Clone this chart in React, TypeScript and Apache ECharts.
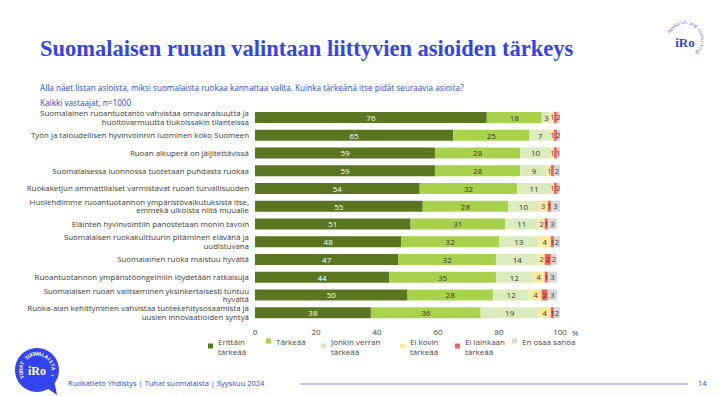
import React, { useEffect, useRef } from "react";
import * as echarts from "echarts";

const categories = [
  "Suomalainen ruoantuotanto vahvistaa omavaraisuutta ja\nhuoltovarmuutta tiukoissakin tilanteissa",
  "Työn ja taloudellisen hyvinvoinnin luominen koko Suomeen",
  "Ruoan alkuperä on jäljitettävissä",
  "Suomalaisessa luonnossa tuotetaan puhdasta ruokaa",
  "Ruokaketjun ammattilaiset varmistavat ruoan turvallisuuden",
  "Huolehdimme ruoantuotannon ympäristövaikutuksista itse,\nemmekä ulkoista niitä muualle",
  "Eläinten hyvinvointiin panostetaan monin tavoin",
  "Suomalaisen ruokakulttuurin pitäminen elävänä ja\nuudistuvana",
  "Suomalainen ruoka maistuu hyvältä",
  "Ruoantuotannon ympäristöongelmiin löydetään ratkaisuja",
  "Suomalaisen ruoan valitseminen yksinkertaisesti tuntuu\nhyvältä",
  "Ruoka-alan kehittyminen vahvistaa tuotekehitysosaamista ja\nuusien innovaatioiden syntyä",
];

const seriesNames = [
  "Erittäin tärkeää",
  "Tärkeää",
  "Jonkin verran tärkeää",
  "Ei kovin tärkeää",
  "Ei lainkaan tärkeää",
  "En osaa sanoa",
];
const legendLabels = [
  "Erittäin\ntärkeää",
  "Tärkeää",
  "Jonkin verran\ntärkeää",
  "Ei kovin\ntärkeää",
  "Ei lainkaan\ntärkeää",
  "En osaa sanoa",
];

const veryImportant = [76, 65, 59, 59, 54, 55, 51, 48, 47, 44, 50, 38];
const important = [18, 25, 28, 28, 32, 28, 31, 32, 32, 35, 28, 36];
const somewhat = [3, 7, 10, 9, 11, 10, 11, 13, 14, 12, 12, 19];
const notVery = [1, 1, 1, 1, 1, 3, 2, 4, 2, 4, 4, 4];
const notAtAll = [1, 1, 1, 1, 1, 1, 1, 1, 2, 1, 2, 1];
const dontKnow = [2, 2, 1, 2, 2, 3, 3, 2, 2, 3, 3, 2];

const xTicks = [0, 20, 40, 60, 80, 100];

const colors = ["#5a7620", "#a8d14c", "#dcebbd", "#fde99b", "#f3625c", "#d8d8d8"];
const labelColors = ["#ffffff", "#333333", "#333333", "#333333", "#333333", "#333333"];
const labelSizes = [8, 8, 8, 7.5, 7.5, 7.5];
const legendX = [208, 266, 321, 400, 455, 512];

const BLUE = "#3344ee";
const FONT = "'Open Sans', 'Noto Sans', sans-serif";

function arcText(text: string, cx: number, cy: number, r: number, startDeg: number, stepDeg: number, size: number, color: string, weight: string) {
  const out: any[] = [];
  for (let i = 0; i < text.length; i++) {
    const th = ((startDeg + i * stepDeg) * Math.PI) / 180;
    out.push({
      type: "text",
      x: cx + r * Math.sin(th),
      y: cy - r * Math.cos(th),
      rotation: -th,
      style: {
        text: text[i],
        fill: color,
        fontSize: size,
        fontFamily: FONT,
        fontWeight: weight,
        align: "center",
        verticalAlign: "middle",
      },
    });
  }
  return out;
}

export default function App() {
  const ref = useRef<HTMLDivElement>(null);
  useEffect(() => {
    if (!ref.current) return;
    const chart = echarts.init(ref.current, undefined, { renderer: "svg" });
    const values = [veryImportant, important, somewhat, notVery, notAtAll, dontKnow];
    const series = values.map((arr, i) => ({
      name: seriesNames[i],
      type: "bar",
      stack: "total",
      barWidth: 11,
      data:
        i === 4
          ? arr.map((v, j) => ({ value: v, label: { show: notVery[j] > 1 } }))
          : arr,
      itemStyle: { color: colors[i] },
      label: {
        show: true,
        position: "inside",
        color: labelColors[i],
        fontSize: labelSizes[i],
        fontFamily: FONT,
      },
    }));
    const legends = seriesNames.map((n, i) => ({
      data: [n],
      left: legendX[i],
      top: 331,
      padding: 0,
      icon: "rect",
      itemWidth: 5,
      itemHeight: 5,
      selectedMode: false,
      formatter: (name: string) => legendLabels[seriesNames.indexOf(name)],
      textStyle: {
        fontSize: 8,
        lineHeight: 10,
        color: "#444",
        fontFamily: FONT,
        padding: [10, 0, 0, 0],
      },
    }));
    const graphics: any[] = [
      {
        type: "text",
        x: 40,
        y: 48,
        style: {
          text: "Suomalaisen ruuan valintaan liittyvien asioiden tärkeys",
          fill: BLUE,
          fontSize: 22.5,
          fontFamily: "'Liberation Serif', 'DejaVu Serif', serif",
          fontWeight: "bold",
          verticalAlign: "middle",
        },
      },
      {
        type: "text",
        x: 40,
        y: 87,
        style: {
          text: "Alla näet listan asioista, miksi suomalaista ruokaa kannattaa valita. Kuinka tärkeänä itse pidät seuraavia asioita?",
          fill: BLUE,
          fontSize: 8.2,
          fontFamily: FONT,
          verticalAlign: "middle",
        },
      },
      {
        type: "text",
        x: 40,
        y: 102,
        style: {
          text: "Kaikki vastaajat, n=1000",
          fill: "#3040d8",
          fontSize: 8.2,
          fontWeight: 500,
          fontFamily: FONT,
          verticalAlign: "middle",
        },
      },
      {
        type: "text",
        x: 572,
        y: 332,
        style: { text: "%", fill: "#444", fontSize: 8, fontFamily: FONT, verticalAlign: "middle" },
      },
      // footer
      {
        type: "text",
        x: 68,
        y: 383,
        style: {
          text: "Ruokatieto Yhdistys | Tuhat suomalaista | Syyskuu 2024",
          fill: BLUE,
          fontSize: 7.5,
          fontFamily: FONT,
          verticalAlign: "middle",
        },
      },
      {
        type: "line",
        shape: { x1: 300, y1: 384, x2: 688, y2: 384 },
        style: { stroke: "#aab3f3", lineWidth: 1.5 },
      },
      {
        type: "text",
        x: 698,
        y: 383,
        style: { text: "14", fill: BLUE, fontSize: 7.5, fontFamily: FONT, verticalAlign: "middle" },
      },
      // bottom-left logo
      {
        type: "polygon",
        shape: { points: [[44, 386], [57, 395], [54, 380]] },
        style: { fill: BLUE },
      },
      { type: "circle", shape: { cx: 37, cy: 370, r: 22 }, style: { fill: BLUE } },
      {
        type: "text",
        x: 37,
        y: 371,
        style: {
          text: "iRo",
          fill: "#fff",
          fontSize: 12,
          fontWeight: "bold",
          fontFamily: "'Liberation Serif', serif",
          align: "center",
          verticalAlign: "middle",
        },
      },
      ...arcText("TUHAT SUOMALAISTA •", 37, 370, 16.5, -115, 12.5, 5, "#ffffff", "bold"),
      // top-right logo
      {
        type: "text",
        x: 685,
        y: 42,
        style: {
          text: "iRo",
          fill: BLUE,
          fontSize: 13,
          fontWeight: "bold",
          fontFamily: "'Liberation Serif', serif",
          align: "center",
          verticalAlign: "middle",
        },
      },
      ...arcText("Research and consulting", 685, 40, 18, -62, 9, 4.5, BLUE, "normal"),
    ];
    chart.setOption({
      animation: false,
      grid: { left: 255, width: 305, top: 108.5, height: 213, containLabel: false },
      xAxis: {
        type: "value",
        min: xTicks[0],
        max: xTicks[xTicks.length - 1],
        interval: 20,
        axisLine: { show: false },
        axisTick: { show: false },
        splitLine: { show: false },
        axisLabel: { fontSize: 8, color: "#444", fontFamily: FONT, margin: 6 },
      },
      yAxis: {
        type: "category",
        inverse: true,
        data: categories,
        axisLine: { show: false },
        axisTick: { show: false },
        axisLabel: {
          interval: 0,
          fontSize: 7.9,
          lineHeight: 8.6,
          color: "#3a3a3a",
          fontFamily: FONT,
          margin: 6,
          align: "right",
        },
      },
      legend: legends,
      series,
      graphic: graphics,
    });
    return () => chart.dispose();
  }, []);
  return (
    <div
      ref={ref}
      style={{ position: "fixed", left: 0, top: 0, width: 720, height: 396, background: "#fff" }}
    />
  );
}
